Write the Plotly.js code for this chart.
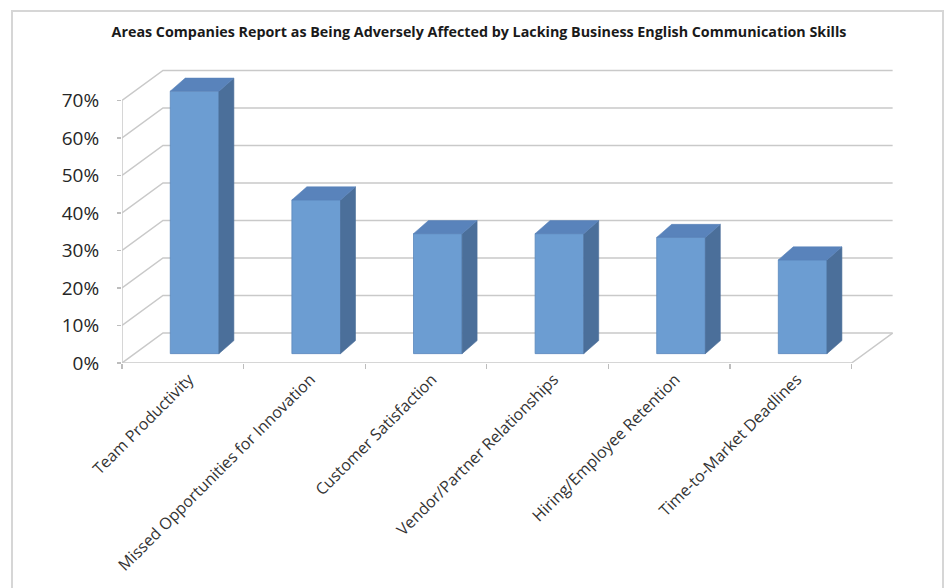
<!DOCTYPE html>
<html>
<head>
<meta charset="utf-8">
<script src="https://cdn.plot.ly/plotly-3.0.1.min.js"></script>
<style>
  html, body { margin: 0; padding: 0; background: #ffffff; }
  #wrap { position: relative; width: 948px; height: 588px; overflow: hidden; }
  #chart { position: absolute; left: 0; top: 0; width: 948px; height: 588px; }
  #frame { position: absolute; left: 11px; top: 10px; width: 929px; height: 600px;
           border: 2px solid #d6d6d6; pointer-events: none; }
</style>
</head>
<body>
<div id="wrap">
  <div id="chart"></div>
  <div id="frame"></div>
</div>
<script>
// ---- data ----
const titleText = "Areas Companies Report as Being Adversely Affected by Lacking Business English Communication Skills";
const categories = [
  "Team Productivity",
  "Missed Opportunities for Innovation",
  "Customer Satisfaction",
  "Vendor/Partner Relationships",
  "Hiring/Employee Retention",
  "Time-to-Market Deadlines"
];
const values = [0.70, 0.41, 0.32, 0.32, 0.31, 0.25];
const yTickVals = [0, 0.1, 0.2, 0.3, 0.4, 0.5, 0.6, 0.7];
const yTickText = ["0%", "10%", "20%", "30%", "40%", "50%", "60%", "70%"];

// ---- 3D-look styling (pseudo perspective) ----
const X0 = -0.5, X1 = categories.length - 0.5;
const DXW = 0.337, DYW = 0.080;      // wall depth offset
const BASE = 0.025;                   // bars sit slightly back on the floor
const BW = 0.40, BOFF = -0.103;       // bar width and offset from category centre
const DXB = 0.123, DYB = 0.0347;      // bar depth offset
const LABEL_SHIFT = 0.05;             // tick-label nudge toward the bar depth
const gridColor = "#c9c9c9";
const frontColor = "#6c9dd2", topColor = "#5983bb", sideColor = "#4b6f9a";

const idx = categories.map((c, i) => i);

// walls / gridlines as shapes below the traces
const shapes = [];
yTickVals.forEach(v => {
  shapes.push({
    type: "path", xref: "x", yref: "y", layer: "below",
    path: `M ${X0},${v} L ${X0 + DXW},${v + DYW} L ${X1 + DXW},${v + DYW}`,
    line: { color: gridColor, width: 1.5 }
  });
});
const yMax = yTickVals[yTickVals.length - 1];
shapes.push({ type: "path", xref: "x", yref: "y", layer: "below",
  path: `M ${X0},0 L ${X0},${yMax}`, line: { color: gridColor, width: 1.5 } });
shapes.push({ type: "path", xref: "x", yref: "y", layer: "below",
  path: `M ${X0},0 L ${X1},0 L ${X1 + DXW},${DYW}`, line: { color: gridColor, width: 1.5 } });

// side and top faces computed from the values
const sideX = [], sideY = [], topX = [], topY = [];
idx.forEach(i => {
  const xl = i + BOFF, xr = i + BOFF + BW;
  const y0 = BASE, y1 = BASE + values[i];
  sideX.push(xr, xr + DXB, xr + DXB, xr, xr, null);
  sideY.push(y0, y0 + DYB, y1 + DYB, y1, y0, null);
  topX.push(xl, xl + DXB, xr + DXB, xr, xl, null);
  topY.push(y1, y1 + DYB, y1 + DYB, y1, y1, null);
});

const traces = [
  {
    type: "bar", x: idx, y: values, base: BASE, width: BW, offset: BOFF,
    marker: { color: frontColor, line: { color: "#5b88bd", width: 0.8 } },
    hoverinfo: "skip", showlegend: false
  },
  {
    type: "scatter", mode: "lines", x: sideX, y: sideY, fill: "toself",
    fillcolor: sideColor, line: { color: sideColor, width: 0.6 },
    hoverinfo: "skip", showlegend: false
  },
  {
    type: "scatter", mode: "lines", x: topX, y: topY, fill: "toself",
    fillcolor: topColor, line: { color: topColor, width: 0.6 },
    hoverinfo: "skip", showlegend: false
  },
  {
    type: "scatter", mode: "markers", x: idx, y: values, xaxis: "x2",
    marker: { opacity: 0 }, hoverinfo: "skip", showlegend: false
  }
];

const xRange = [X0, X1 + DXW + 0.003];
const layout = {
  width: 948, height: 588,
  paper_bgcolor: "#ffffff", plot_bgcolor: "rgba(0,0,0,0)",
  margin: { l: 122, r: 55, t: 63, b: 225, pad: 0 },
  showlegend: false,
  title: {
    text: titleText,
    font: { family: "Open Sans", size: 14.3, color: "#1a1a1a", weight: 700 },
    x: 479 / 948, xanchor: "center", xref: "container",
    y: 1 - 32 / 588, yanchor: "middle", yref: "container"
  },
  xaxis: {
    range: xRange, tickvals: idx.concat([categories.length]).map(i => i - 0.5),
    showticklabels: false, ticks: "outside", ticklen: 5, tickcolor: "#bdbdbd", tickwidth: 1.2,
    showgrid: false, zeroline: false, showline: false, fixedrange: true
  },
  xaxis2: {
    overlaying: "x", anchor: "y", side: "bottom", range: xRange,
    tickvals: idx.map(i => i + LABEL_SHIFT), ticktext: categories, tickangle: -45, ticks: "",
    ticklabelstandoff: 3,
    showgrid: false, zeroline: false, showline: false,
    tickfont: { family: "Open Sans", size: 16, color: "#333333" }
  },
  yaxis: {
    range: [0, 0.8], tickvals: yTickVals, ticktext: yTickText,
    ticks: "outside", ticklen: 4, tickcolor: "#bdbdbd", tickwidth: 1.2,
    ticklabelstandoff: 14,
    tickfont: { family: "Open Sans", size: 19, color: "#262626" },
    showgrid: false, zeroline: false, showline: false, fixedrange: true
  },
  shapes: shapes,
  bargap: 0
};

Plotly.newPlot("chart", traces, layout, { staticPlot: true, displayModeBar: false });
</script>
</body>
</html>
